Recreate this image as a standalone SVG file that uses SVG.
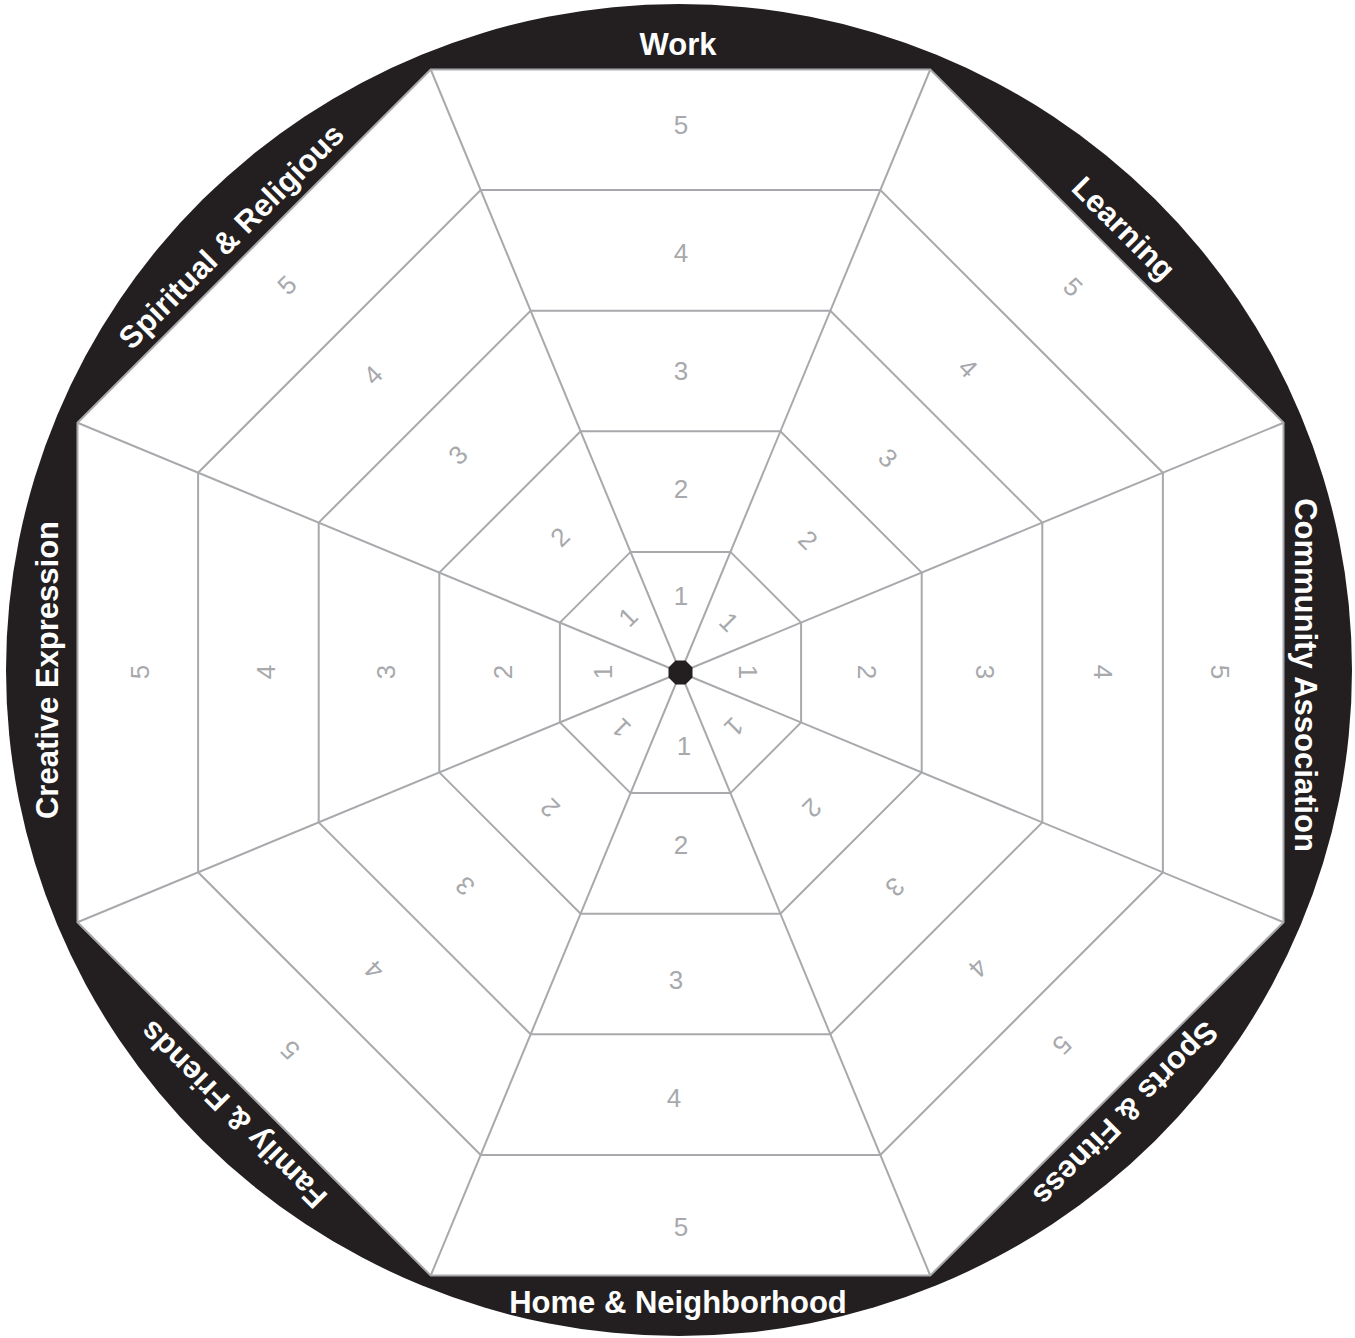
<svg xmlns="http://www.w3.org/2000/svg" width="1355" height="1338" viewBox="0 0 1355 1338">
<style>
.grid{fill:none;stroke:#a7a9ac;stroke-width:2;stroke-linejoin:miter}
.lbl{font-family:"Liberation Sans",Arial,sans-serif;font-weight:bold;font-size:31px;fill:#ffffff;text-anchor:middle}
.num{font-family:"Liberation Sans",Arial,sans-serif;font-size:26px;fill:#a7a9ac;text-anchor:middle}
</style>
<rect width="1355" height="1338" fill="#ffffff"/>
<g id="ring">
<ellipse cx="679" cy="670" rx="673" ry="666" fill="#231f20"/>
<polygon points="430.73,69.5 930.27,69.5 1283.5,422.73 1283.5,922.27 930.27,1275.5 430.73,1275.5 77.5,922.27 77.5,422.73" fill="#ffffff"/>
</g>
<g id="grid" class="grid">
<polygon points="430.73,69.5 930.27,69.5 1283.5,422.73 1283.5,922.27 930.27,1275.5 430.73,1275.5 77.5,922.27 77.5,422.73"/>
<polygon points="480.68,190.1 880.32,190.1 1162.9,472.68 1162.9,872.32 880.32,1154.9 480.68,1154.9 198.1,872.32 198.1,472.68"/>
<polygon points="530.64,310.7 830.36,310.7 1042.3,522.64 1042.3,822.36 830.36,1034.3 530.64,1034.3 318.7,822.36 318.7,522.64"/>
<polygon points="580.59,431.3 780.41,431.3 921.7,572.59 921.7,772.41 780.41,913.7 580.59,913.7 439.3,772.41 439.3,572.59"/>
<polygon points="630.55,551.9 730.45,551.9 801.1,622.55 801.1,722.45 730.45,793.1 630.55,793.1 559.9,722.45 559.9,622.55"/>
</g>
<g id="connectors" class="grid">
<line x1="680.5" y1="672.5" x2="430.73" y2="69.5"/>
<line x1="680.5" y1="672.5" x2="930.27" y2="69.5"/>
<line x1="680.5" y1="672.5" x2="1283.5" y2="422.73"/>
<line x1="680.5" y1="672.5" x2="1283.5" y2="922.27"/>
<line x1="680.5" y1="672.5" x2="930.27" y2="1275.5"/>
<line x1="680.5" y1="672.5" x2="430.73" y2="1275.5"/>
<line x1="680.5" y1="672.5" x2="77.5" y2="922.27"/>
<line x1="680.5" y1="672.5" x2="77.5" y2="422.73"/>
</g>
<g id="center">
<polygon points="675.53,660.5 685.47,660.5 692.5,667.53 692.5,677.47 685.47,684.5 675.53,684.5 668.5,677.47 668.5,667.53" fill="#231f20"/>
</g>
<g id="work">
<text class="lbl" transform="translate(678,43.5)" y="11">Work</text>
<text class="num" transform="translate(681,125)" y="9">5</text>
<text class="num" transform="translate(681,253)" y="9">4</text>
<text class="num" transform="translate(681,371)" y="9">3</text>
<text class="num" transform="translate(681,489)" y="9">2</text>
<text class="num" transform="translate(681,596)" y="9">1</text>
</g>
<g id="learning">
<text class="lbl" transform="translate(1124,228) rotate(45)" y="11">Learning</text>
<text class="num" transform="translate(1073,287) rotate(45)" y="9">5</text>
<text class="num" transform="translate(968,368) rotate(45)" y="9">4</text>
<text class="num" transform="translate(888,458) rotate(45)" y="9">3</text>
<text class="num" transform="translate(808,540) rotate(45)" y="9">2</text>
<text class="num" transform="translate(729,622) rotate(45)" y="9">1</text>
</g>
<g id="community">
<text class="lbl" transform="translate(1306,675) rotate(90)" y="11">Community Association</text>
<text class="num" transform="translate(1220,672) rotate(90)" y="9">5</text>
<text class="num" transform="translate(1103,672) rotate(90)" y="9">4</text>
<text class="num" transform="translate(985,672) rotate(90)" y="9">3</text>
<text class="num" transform="translate(867,672) rotate(90)" y="9">2</text>
<text class="num" transform="translate(748,672) rotate(90)" y="9">1</text>
</g>
<g id="sports">
<text class="lbl" transform="translate(1126,1114) rotate(135)" y="11">Sports &amp; Fitness</text>
<text class="num" transform="translate(1062,1045) rotate(135)" y="9">5</text>
<text class="num" transform="translate(978,968) rotate(135)" y="9">4</text>
<text class="num" transform="translate(895,887) rotate(135)" y="9">3</text>
<text class="num" transform="translate(812,808) rotate(135)" y="9">2</text>
<text class="num" transform="translate(734,727) rotate(135)" y="9">1</text>
</g>
<g id="home">
<text class="lbl" transform="translate(678,1301.5)" y="11">Home &amp; Neighborhood</text>
<text class="num" transform="translate(681,1227)" y="9">5</text>
<text class="num" transform="translate(674,1098)" y="9">4</text>
<text class="num" transform="translate(676,980)" y="9">3</text>
<text class="num" transform="translate(681,845)" y="9">2</text>
<text class="num" transform="translate(684,746)" y="9">1</text>
</g>
<g id="family">
<text class="lbl" transform="translate(233,1115) rotate(225)" y="11">Family &amp; Friends</text>
<text class="num" transform="translate(290,1050) rotate(225)" y="9">5</text>
<text class="num" transform="translate(374,970) rotate(225)" y="9">4</text>
<text class="num" transform="translate(465,886) rotate(225)" y="9">3</text>
<text class="num" transform="translate(550,808) rotate(225)" y="9">2</text>
<text class="num" transform="translate(621,728) rotate(225)" y="9">1</text>
</g>
<g id="creative">
<text class="lbl" transform="translate(47,670) rotate(270)" y="11">Creative Expression</text>
<text class="num" transform="translate(140,672) rotate(270)" y="9">5</text>
<text class="num" transform="translate(266,672) rotate(270)" y="9">4</text>
<text class="num" transform="translate(386,672) rotate(270)" y="9">3</text>
<text class="num" transform="translate(503,672) rotate(270)" y="9">2</text>
<text class="num" transform="translate(603,672) rotate(270)" y="9">1</text>
</g>
<g id="spiritual">
<text class="lbl" transform="translate(231,236) rotate(315)" y="11">Spiritual &amp; Religious</text>
<text class="num" transform="translate(287,285) rotate(315)" y="9">5</text>
<text class="num" transform="translate(373,375) rotate(315)" y="9">4</text>
<text class="num" transform="translate(458,455) rotate(315)" y="9">3</text>
<text class="num" transform="translate(560,537) rotate(315)" y="9">2</text>
<text class="num" transform="translate(628,617) rotate(315)" y="9">1</text>
</g>
</svg>
